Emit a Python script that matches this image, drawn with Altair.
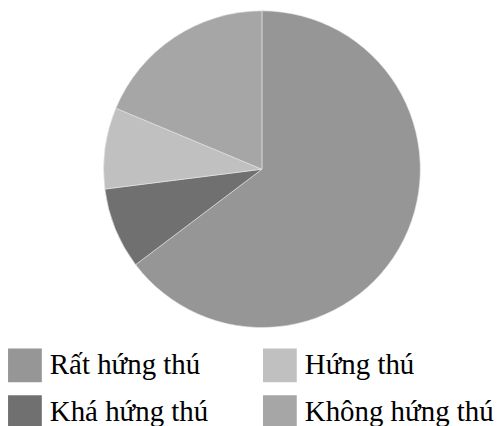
import altair as alt
import pandas as pd

categories = ["Rất hứng thú", "Khá hứng thú", "Hứng thú", "Không hứng thú"]
values = [64.7, 8.3, 8.3, 18.7]
slice_order = [0, 1, 2, 3]
colors = ["#969696", "#707070", "#c0c0c0", "#a6a6a6"]

df = pd.DataFrame({"cat": categories, "val": values, "ord": slice_order})

chart = alt.Chart(df).mark_arc(radius=159, stroke="#e8e8e8", strokeWidth=0.6).encode(
    theta=alt.Theta("val:Q", stack=True),
    order=alt.Order("ord:Q", sort="ascending"),
    color=alt.Color(
        "cat:N",
        scale=alt.Scale(domain=categories, range=colors),
        legend=alt.Legend(
            title=None,
            orient="none",
            legendX=0,
            legendY=341,
            columns=2,
            symbolType="square",
            symbolSize=1150,
            symbolStrokeWidth=0,
            labelFont="Liberation Serif",
            labelFontSize=29,
            labelColor="#000000",
            labelOffset=8,
            labelLimit=400,
            rowPadding=13,
            columnPadding=54,
        ),
    ),
    x=alt.value(255),
    y=alt.value(161),
).properties(width=486, height=330, padding=0).configure_view(stroke=None)

chart.save("out.html", embed_options={"renderer": "svg", "actions": False})
